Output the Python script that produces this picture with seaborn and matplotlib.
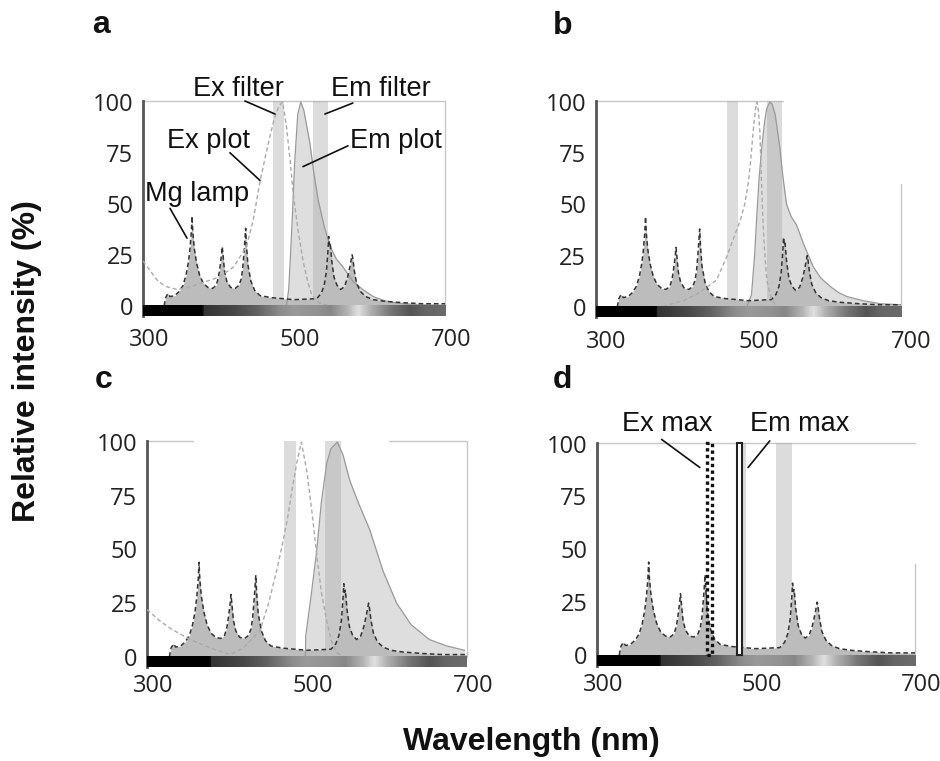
import numpy as np
import matplotlib
matplotlib.use("Agg")
import matplotlib.pyplot as plt
import matplotlib.transforms as mtransforms
from matplotlib.colors import LinearSegmentedColormap
from matplotlib.patches import Rectangle
import seaborn as sns

sns.set_theme(style="white")
plt.rcParams['font.family'] = ['Liberation Sans', 'DejaVu Sans']

# Mg lamp spectrum (same lamp in every panel)
lamp_nm = [328, 330, 333, 336, 342, 348, 353, 357, 360, 362, 364, 365, 366, 368, 371, 375, 380,
           386, 392, 397, 400, 402, 404, 405, 406, 408, 411, 416, 422, 427, 430, 432, 434, 436,
           437, 439, 443, 448, 455, 470, 500, 530, 536, 540, 543, 545, 546, 547, 548, 550, 553,
           557, 562, 567, 571, 574, 576, 577, 578, 580, 583, 588, 595, 605, 620, 645, 670, 700]
lamp_val = [0, 4, 6, 4.5, 5, 7, 10, 15, 21, 27, 36, 44, 36, 28, 21, 15, 11,
            9, 8.5, 10, 14, 19, 25, 29, 25, 17, 12, 9, 8.5, 10, 13, 18, 27, 38,
            30, 20, 12, 7.5, 5, 4, 3, 3.5, 6, 10, 17, 27, 34, 30, 31, 22, 14,
            10, 8, 9.5, 14, 19, 23, 25, 23, 17, 11, 7, 4.5, 3, 2.2, 1.5, 1, 1]

# panel a
a_ex_nm = [300, 310, 320, 330, 345, 360, 380, 400, 420, 437, 446, 455, 462, 468, 474, 480, 485,
           490, 495, 499, 505, 512, 518, 523, 530, 540, 553]
a_ex_val = [22, 17, 12, 9.5, 8, 9, 11.5, 14, 19, 29, 42, 61, 73, 83, 92, 98, 100,
            88, 71, 55, 38, 22, 12, 6, 2, 0.5, 0]
a_em_nm = [490, 493, 495, 498, 501, 505, 509, 513, 517, 521, 526, 532, 540, 548, 556, 565, 578,
           591, 605, 620, 636, 660, 700]
a_em_val = [0, 8, 22, 45, 71, 94, 100, 96, 88, 80, 66, 52, 39, 29, 23, 19, 12,
            8, 4.5, 2.5, 1.3, 0.5, 0]
a_filters = [(472, 487), (525, 545)]

# panel b
b_ex_nm = [388, 400, 415, 436, 458, 471, 480, 489, 495, 500, 503, 506, 509, 511, 513, 515, 517,
           519, 521, 524, 530, 537]
b_ex_val = [0, 1.5, 3, 7, 13, 24, 33, 42, 50, 61, 72, 85, 96, 100, 96, 85, 62,
            42, 28, 13, 4, 0]
b_em_nm = [498, 504, 508, 511, 514, 517.5, 521, 524, 528, 531, 535, 541, 545, 550, 556, 563, 573,
           585, 595, 607, 618, 629, 650, 673, 699]
b_em_val = [0, 6, 25, 45, 63, 78, 90, 97, 100, 99, 94, 78, 64, 50, 44, 40, 30,
            19.5, 14, 10, 7, 5, 3, 1.5, 1]
b_filters = [(472, 486), (524, 544)]

# panel c
c_ex_nm = [300, 315, 330, 354, 380, 404, 420, 441, 452, 462, 469, 475, 481, 487, 493, 500, 506,
           512, 518, 525, 531, 537, 545]
c_ex_val = [22, 17, 13, 8, 4, 1, 4, 12, 25, 40, 52, 63, 77, 90, 100, 86, 68,
            48, 30, 16, 7, 2, 0]
c_em_nm = [498, 498.5, 505, 512, 518, 524.6, 530, 538, 545, 553.6, 565, 578.6, 595, 612, 630, 653,
           675, 697]
c_em_val = [0, 10, 28, 49, 72, 90, 97, 100, 94, 82, 71, 59, 40, 25, 15, 8,
            5, 3]
c_filters = [(471, 486), (523, 543)]

# panel d
d_filters = [(476, 488), (525, 545)]
d_ex_max = (438, 445)
d_em_max = (476, 482.5)

# spectrum bar under each plot (nm, gray level)
bar_nm = [300, 378, 380, 420, 450, 481, 500, 530, 548, 570, 585, 600, 627, 654, 675, 700]
bar_gray = [0.0, 0.0, 0.2, 0.28, 0.38, 0.55, 0.6, 0.57, 0.53, 0.7, 0.88, 0.7, 0.47, 0.33, 0.4, 0.42]

x_ticks = [300, 500, 700]
y_ticks = [0, 25, 50, 75, 100]

fig = plt.figure(figsize=(9.4, 7.61), dpi=100)
ax_a = fig.add_axes([0.1521, 0.5848, 0.3213, 0.2825])
ax_b = fig.add_axes([0.6340, 0.5834, 0.3245, 0.2838])
ax_c = fig.add_axes([0.1564, 0.1229, 0.3404, 0.2976])
ax_d = fig.add_axes([0.6351, 0.1254, 0.3383, 0.2930])

cmap = LinearSegmentedColormap.from_list(
    "bar", [((n - 300) / 400, (g, g, g)) for n, g in zip(bar_nm, bar_gray)])
grad = np.linspace(0, 1, 400)[None, :]

LAMP_FILL = "#bcbcbc"
EM_FILL = "#dedede"


def base(ax, letter, letter_xy, dx, xpad, top_parts, right_from):
    ax.set_xlim(300, 700)
    ax.set_ylim(-5, 100.5)
    ax.imshow(grad, cmap=cmap, aspect="auto", extent=(300, 700, -5, 0), zorder=6)
    ax.set_xticks(x_ticks)
    ax.set_xticklabels([str(t) for t in x_ticks])
    ax.set_yticks(y_ticks)
    ax.set_yticklabels([str(t) for t in y_ticks])
    ax.tick_params(axis="both", length=0, labelsize=17, colors="#222222")
    ax.tick_params(axis="x", pad=xpad)
    ax.tick_params(axis="y", pad=7)
    for lab in ax.get_xticklabels() + ax.get_yticklabels():
        lab.set_fontfamily("Open Sans")
    off = mtransforms.ScaledTranslation(dx / 100, 0, fig.dpi_scale_trans)
    for lab in ax.get_xticklabels():
        lab.set_transform(lab.get_transform() + off)
    ax.spines["bottom"].set_visible(False)
    ax.spines["left"].set_color("#555555")
    ax.spines["left"].set_linewidth(2)
    ax.spines["top"].set_visible(False)
    ax.spines["right"].set_visible(False)
    for x0, x1 in top_parts:
        ax.plot([x0, x1], [100.5, 100.5], color="#c8c8c8", lw=1, zorder=1, clip_on=False)
    ax.plot([700, 700], [0, right_from], color="#c8c8c8", lw=1, zorder=1, clip_on=False)
    ax.text(letter_xy[0], letter_xy[1], letter, transform=ax.transAxes, fontsize=23,
            fontweight="bold", ha="left", va="baseline", color="#111111")


def filters(ax, bands):
    for x0, x1 in bands:
        ax.axvspan(x0, x1, color="#aaaaaa", alpha=0.41, lw=0, zorder=2)


def lamp(ax):
    ax.fill_between(lamp_nm, lamp_val, 0, color=LAMP_FILL, lw=0, zorder=3)
    sns.lineplot(x=lamp_nm, y=lamp_val, ax=ax, color="#333333", lw=1.1,
                 linestyle=(0, (3, 2)), zorder=4)


def ex_em(ax, ex_nm, ex_val, em_nm, em_val):
    ax.fill_between(em_nm, em_val, 0, color=EM_FILL, lw=0, zorder=1.5)
    sns.lineplot(x=em_nm, y=em_val, ax=ax, color="#999999", lw=0.9, zorder=3.5)
    sns.lineplot(x=ex_nm, y=ex_val, ax=ax, color="#aaaaaa", lw=1.0,
                 linestyle=(0, (3, 2)), zorder=4.5)


def label(ax, text, pos, line):
    ax.text(pos[0], pos[1], text, fontsize=19.5, ha="center", va="center",
            color="#111111", zorder=10, clip_on=False)
    ax.plot([line[0][0], line[1][0]], [line[0][1], line[1][1]], color="#111111",
            lw=1.2, zorder=10, clip_on=False)


# a
base(ax_a, "a", (-0.169, 1.316), 6, 9, [(300, 700)], 100.5)
ex_em(ax_a, a_ex_nm, a_ex_val, a_em_nm, a_em_val)
filters(ax_a, a_filters)
lamp(ax_a)
label(ax_a, "Ex filter", (425.8, 106.6), ((435, 100.5), (474.8, 94.1)))
label(ax_a, "Em filter", (615, 106.6), ((578, 99.5), (541, 94.1)))
label(ax_a, "Ex plot", (386.8, 81), ((415.2, 75.1), (455, 61.5)))
label(ax_a, "Em plot", (634.7, 81), ((571.5, 78.5), (512, 68.3)))
label(ax_a, "Mg lamp", (372, 55), ((335.8, 47.8), (358.3, 33.2)))

# b
base(ax_b, "b", (-0.141, 1.31), 10, 9, [(300, 545)], 60)
ex_em(ax_b, b_ex_nm, b_ex_val, b_em_nm, b_em_val)
filters(ax_b, b_filters)
lamp(ax_b)

# c
base(ax_c, "c", (-0.1625, 1.234), 6, 5, [(300, 358), (603, 700)], 100.5)
ex_em(ax_c, c_ex_nm, c_ex_val, c_em_nm, c_em_val)
filters(ax_c, c_filters)
lamp(ax_c)

# d
base(ax_d, "d", (-0.138, 1.247), 6, 5, [(300, 700)], 43)
filters(ax_d, d_filters)
lamp(ax_d)
ax_d.add_patch(Rectangle((d_ex_max[0], 0), d_ex_max[1] - d_ex_max[0], 100.2, fill=False,
                         edgecolor="#111111", lw=2.4, linestyle=(0, (1, 1)), zorder=7,
                         clip_on=False))
ax_d.add_patch(Rectangle((d_em_max[0], 0), d_em_max[1] - d_em_max[0], 100.4, facecolor="white",
                         edgecolor="#222222", lw=1.5, zorder=7, clip_on=False))
label(ax_d, "Ex max", (388.6, 109.5), ((381.3, 102), (429.4, 88.7)))
label(ax_d, "Em max", (555, 109.5), ((517.3, 101.3), (490, 88.7)))

fig.text(0.029, 0.525, "Relative intensity (%)", rotation=90, fontsize=23, fontweight="bold",
         ha="center", va="center", color="#111111")
fig.text(0.565, 0.025, "Wavelength (nm)", fontsize=23, fontweight="bold",
         ha="center", va="center", color="#111111")

fig.savefig("out.png", dpi=100)
